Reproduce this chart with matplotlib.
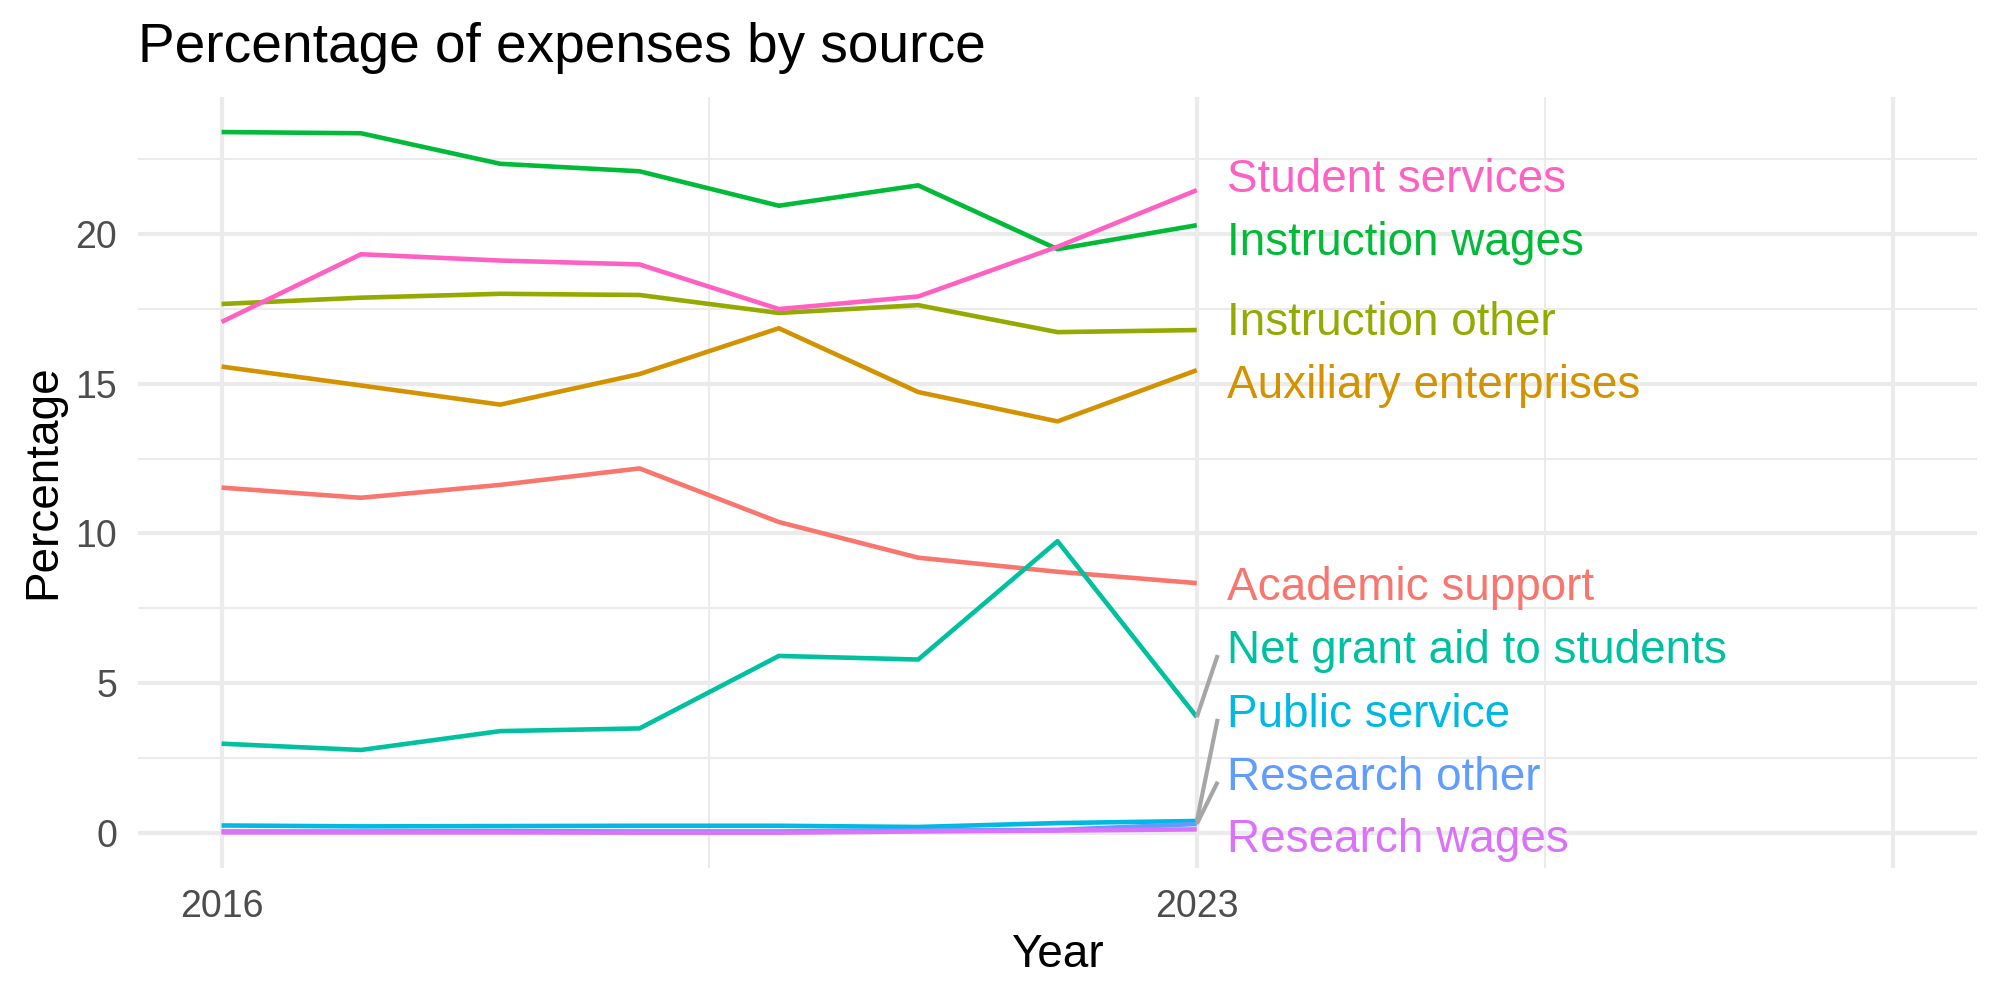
import matplotlib
matplotlib.use("Agg")
import matplotlib.pyplot as plt
from matplotlib.ticker import FixedLocator

plt.rcParams["font.family"] = ["Liberation Sans", "DejaVu Sans"]

# ── data ─────────────────────────────────────────────────────────────────────
years = [2016, 2017, 2018, 2019, 2020, 2021, 2022, 2023]

categories = [
    "Academic support", "Auxiliary enterprises", "Instruction other",
    "Instruction wages", "Net grant aid to students", "Public service",
    "Research other", "Research wages", "Student services",
]

academic_support   = [11.53, 11.19, 11.62, 12.17, 10.38, 9.19, 8.72, 8.34]
auxiliary          = [15.57, 14.94, 14.30, 15.32, 16.85, 14.72, 13.74, 15.45]
instruction_other  = [17.66, 17.87, 18.00, 17.96, 17.36, 17.62, 16.72, 16.79]
instruction_wages  = [23.40, 23.36, 22.34, 22.09, 20.94, 21.62, 19.49, 20.29]
net_grant_aid      = [2.98, 2.77, 3.40, 3.49, 5.91, 5.79, 9.74, 3.87]
public_service     = [0.25, 0.22, 0.23, 0.24, 0.24, 0.20, 0.33, 0.40]
research_other     = [0.05, 0.05, 0.06, 0.05, 0.05, 0.08, 0.10, 0.30]
research_wages     = [0.02, 0.02, 0.02, 0.01, 0.01, 0.05, 0.08, 0.12]
student_services   = [17.06, 19.32, 19.11, 18.98, 17.49, 17.91, 19.57, 21.46]

series = [academic_support, auxiliary, instruction_other, instruction_wages,
          net_grant_aid, public_service, research_other, research_wages,
          student_services]

# ggplot default hue palette, 9 levels
colors = ["#F8766D", "#D39200", "#93AA00", "#00BA38", "#00C19F",
          "#00B9E3", "#619CFF", "#DB72FB", "#FF61C3"]

# repelled label baselines (data units) at the right of the last year
label_y = [7.78, 14.51, 16.62, 19.29, 5.67, 3.54, 1.44, -0.63, 21.40]
label_x = 2023.22
seg_end_x = 2023.15

# ── plot ─────────────────────────────────────────────────────────────────────
fig = plt.figure(figsize=(2000 / 300, 1000 / 300), dpi=300)
ax = fig.add_axes([138 / 2000, 1 - 868 / 1000, (1977 - 138) / 2000, (868 - 97) / 1000])

ax.set_xlim(2015.40, 2028.60)
ax.set_ylim(-1.17, 24.57)

grid_c = "#EBEBEB"
ax.xaxis.set_major_locator(FixedLocator([2016, 2023, 2028]))
ax.xaxis.set_minor_locator(FixedLocator([2019.5, 2025.5]))
ax.yaxis.set_major_locator(FixedLocator([0, 5, 10, 15, 20]))
ax.yaxis.set_minor_locator(FixedLocator([2.5, 7.5, 12.5, 17.5, 22.5]))
ax.grid(which="major", color=grid_c, lw=1.0)
ax.grid(which="minor", color=grid_c, lw=0.5)
ax.set_axisbelow(True)
for s in ax.spines.values():
    s.set_visible(False)

ax.set_xticklabels(["2016", "2023", ""])
ax.set_yticklabels(["0", "5", "10", "15", "20"])
ax.tick_params(which="both", length=0, labelsize=9, labelcolor="#4D4D4D")
ax.tick_params(axis="x", pad=5)
ax.tick_params(axis="y", pad=5)

for vals, col in zip(series, colors):
    ax.plot(years, vals, color=col, lw=1.1, solid_capstyle="butt", zorder=3)

# label segments for the crowded bottom group
seg_c = "#A6A6A6"
for i, (name, vals) in enumerate(zip(categories, series)):
    if name in ("Net grant aid to students", "Public service", "Research other"):
        ax.plot([years[-1], seg_end_x], [vals[-1], label_y[i] + 0.27],
                color=seg_c, lw=1.0, zorder=4, solid_capstyle="butt")

for name, col, ly in zip(categories, colors, label_y):
    ax.text(label_x, ly, name, color=col, fontsize=11, ha="left",
            va="baseline", zorder=5)

fig.text(138 / 2000, 1 - 62 / 1000, "Percentage of expenses by source",
         fontsize=13.2, ha="left", va="baseline")
fig.text(1057 / 2000, 1 - 967 / 1000, "Year", fontsize=11,
         ha="center", va="baseline")
fig.text(55 / 2000, 1 - 482 / 1000, "Percentage", fontsize=11, rotation=90,
         ha="center", va="baseline", rotation_mode="anchor")

fig.savefig("out.png", dpi=300, facecolor="white")
